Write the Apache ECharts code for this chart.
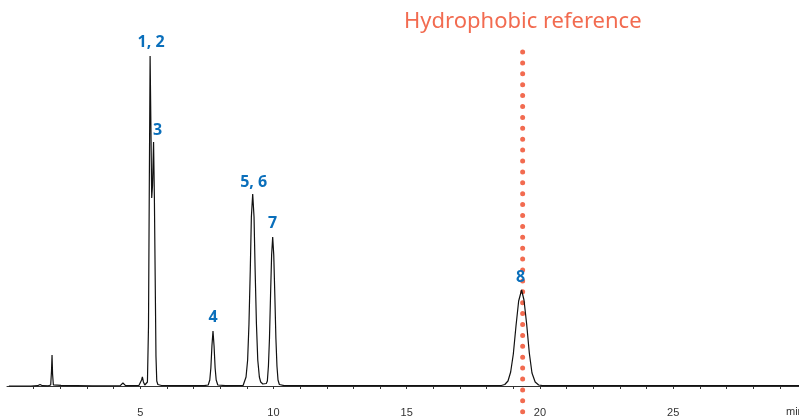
<!DOCTYPE html>
<html>
<head>
<meta charset="utf-8">
<script src="https://cdn.jsdelivr.net/npm/echarts@6/dist/echarts.min.js"></script>
<style>
  html, body { margin: 0; padding: 0; background: #fff; }
  #chart { width: 799px; height: 419px; }
</style>
</head>
<body>
<div id="chart"></div>
<script>
// chromatogram trace (time in min, detector signal)
const traceTime = [
  0.07, 0.9, 1.15, 1.24, 1.33, 1.55, 1.64, 1.67, 1.69, 1.71, 1.74, 1.88, 1.95, 2.03, 3.2,
  4.25, 4.35, 4.45, 4.95, 5.00, 5.05, 5.08, 5.12, 5.17,
  5.22, 5.27, 5.31, 5.34, 5.37, 5.40, 5.43, 5.46, 5.50, 5.53, 5.56, 5.59, 5.62, 5.66, 5.80,
  7.40, 7.55, 7.61, 7.65, 7.69, 7.73, 7.77, 7.81, 7.85, 7.91, 8.20,
  8.86, 8.92, 8.97, 9.03, 9.08, 9.13, 9.17, 9.22, 9.27, 9.31, 9.36, 9.41, 9.47, 9.52, 9.60,
  9.73, 9.77, 9.81, 9.85, 9.89, 9.93, 9.97, 10.01, 10.05, 10.09, 10.13, 10.17, 10.22, 10.40,
  15.0, 18.55, 18.68, 18.80, 18.90, 19.00, 19.10, 19.20, 19.31, 19.40, 19.50, 19.60, 19.70, 19.82, 19.95, 20.10,
  25.0, 29.72
];
const traceSignal = [
  0, 0, 0.3, 1.5, 0.3, 0.2, 1, 15, 31, 12, 1, 0.8, 2.5, 0.6, 0.2,
  0.4, 3, 0.4, 0.5, 1.5, 6, 9, 4, 1,
  1, 4, 60, 200, 330, 260, 188, 200, 244, 190, 110, 30, 5, 1.5, 0.5,
  0.3, 1, 6, 18, 40, 55, 40, 18, 6, 1, 0.3,
  0.5, 2.5, 9, 26, 62, 117, 169, 192, 169, 117, 62, 26, 9, 4, 2,
  2.5, 5, 20, 48, 91, 131, 149, 131, 91, 48, 20, 6, 1.5, 0.4,
  0.3, 0.5, 1.5, 5, 14, 32, 60, 85, 96, 86, 62, 33, 13, 4, 1, 0.4,
  0.3, 0.4
];

// peak labels
const peakTime = [5.37, 5.50, 7.73, 9.22, 9.97, 19.31];
const peakSignal = [330, 244, 55, 192, 149, 96];
const peakName = ['1, 2', '3', '4', '5, 6', '7', '8'];
const peakNudge = [[1, -1], [4, 1], [0, -1], [1, 1], [0, -1], [-1, 0]];

// hydrophobic reference marker
const refTime = 19.35;
const refSpan = [334, -26];

const xTicks = [1, 2, 3, 4, 5, 6, 7, 8, 9, 10, 11, 12, 13, 14, 15, 16, 17, 18, 19, 20,
  21, 22, 23, 24, 25, 26, 27, 28, 29];
const xLabels = [5, 10, 15, 20, 25];

const BLUE = '#0a6fbb';
const ORANGE = '#f26b50';

const chart = echarts.init(document.getElementById('chart'), null, { renderer: 'canvas' });

chart.setOption({
  animation: false,
  backgroundColor: '#fff',
  title: {
    text: 'Hydrophobic reference',
    left: 399,
    top: 6,
    textStyle: {
      color: ORANGE,
      fontFamily: 'Noto Sans',
      fontSize: 22,
      fontWeight: 'normal'
    }
  },
  grid: { left: 7, right: 0, top: 3, bottom: 16 },
  xAxis: {
    type: 'value',
    min: 0,
    max: 29.72,
    axisLine: { lineStyle: { color: '#333', width: 1 } },
    axisTick: { customValues: xTicks, length: 3, lineStyle: { color: '#333' } },
    axisLabel: {
      customValues: xLabels,
      color: '#333',
      fontSize: 11,
      fontFamily: 'Liberation Sans',
      margin: 4
    },
    splitLine: { show: false }
  },
  yAxis: {
    type: 'value',
    min: -17,
    max: 383,
    show: false
  },
  graphic: [{
    type: 'text',
    left: 786,
    top: 406,
    style: { text: 'min', fill: '#333', font: '11px "Liberation Sans"' }
  }],
  series: [
    {
      type: 'line',
      data: traceTime.map((t, i) => [t, traceSignal[i]]),
      symbol: 'none',
      lineStyle: { color: '#111', width: 1.2 },
      z: 3
    },
    {
      type: 'line',
      data: refSpan.map(v => [refTime, v]),
      symbol: 'none',
      clip: false,
      lineStyle: { color: ORANGE, width: 5, type: [0, 10.9], cap: 'round' },
      z: 2
    },
    {
      type: 'scatter',
      symbolSize: 1,
      itemStyle: { opacity: 0 },
      data: peakTime.map((t, i) => ({
        value: [t, peakSignal[i]],
        label: { offset: peakNudge[i] }
      })),
      label: {
        show: true,
        position: 'top',
        distance: 4,
        formatter: p => peakName[p.dataIndex],
        color: BLUE,
        opacity: 1,
        fontFamily: 'Open Sans',
        fontWeight: 'bold',
        fontSize: 16
      },
      z: 10
    }
  ]
});
</script>
</body>
</html>
